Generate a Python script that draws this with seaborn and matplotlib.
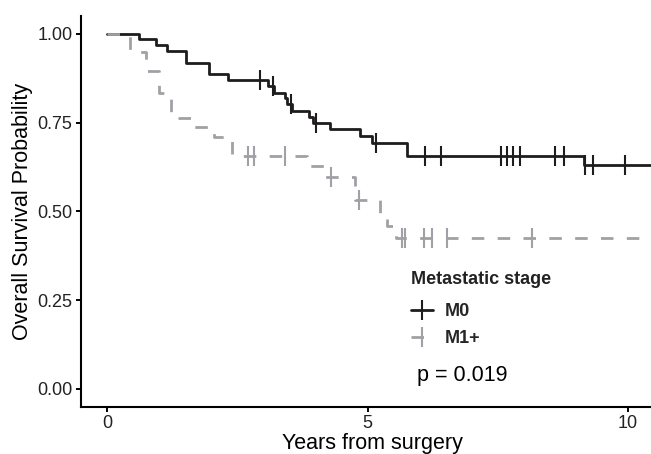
import numpy as np
import pandas as pd
import matplotlib
matplotlib.use("Agg")
import matplotlib.pyplot as plt
import seaborn as sns
from matplotlib.lines import Line2D

# Kaplan-Meier steps (years, survival after the drop)
m0_times = [0.0, 0.62, 0.94, 1.15, 1.51, 1.96, 2.32, 3.09, 3.20, 3.42, 3.46, 3.55,
            3.87, 3.96, 4.27, 4.86, 5.08, 5.75, 9.16, 10.6]
m0_surv = [1.0, 0.985, 0.969, 0.953, 0.919, 0.887, 0.870, 0.854, 0.835, 0.819, 0.803,
           0.783, 0.767, 0.750, 0.731, 0.713, 0.692, 0.656, 0.631, 0.631]
m0_censor = [2.94, 3.19, 3.53, 4.01, 5.16, 6.10, 6.40, 7.56, 7.68, 7.80, 7.93,
             8.60, 8.77, 9.17, 9.32, 9.94]

m1_times = [0.0, 0.44, 0.75, 1.00, 1.23, 1.65, 2.05, 2.40, 3.83, 4.19, 4.76, 5.23,
            5.37, 5.55, 10.6]
m1_surv = [1.0, 0.950, 0.896, 0.833, 0.763, 0.737, 0.709, 0.657, 0.627, 0.597,
           0.531, 0.490, 0.458, 0.425, 0.425]
m1_censor = [2.71, 2.82, 3.42, 4.30, 4.84, 5.66, 5.72, 6.08, 6.24, 6.53, 8.15]

groups = ["M0", "M1+"]
colors = {"M0": "#1E1C1D", "M1+": "#A0A1A5"}
legend_title = "Metastatic stage"
p_label = "p = 0.019"


def step_value(times, surv, t):
    # survival at time t from the step function
    idx = np.searchsorted(times, t, side="right") - 1
    return surv[idx]


curve_df = pd.concat([
    pd.DataFrame({"time": m0_times, "surv": m0_surv, "group": "M0"}),
    pd.DataFrame({"time": m1_times, "surv": m1_surv, "group": "M1+"}),
], ignore_index=True)

censor_df = pd.concat([
    pd.DataFrame({"time": m0_censor,
                  "surv": [step_value(m0_times, m0_surv, t) for t in m0_censor],
                  "group": "M0"}),
    pd.DataFrame({"time": m1_censor,
                  "surv": [step_value(m1_times, m1_surv, t) for t in m1_censor],
                  "group": "M1+"}),
], ignore_index=True)

sns.set_theme(style="white")
plt.rcParams["font.family"] = ["Liberation Sans", "DejaVu Sans"]

fig = plt.figure(figsize=(6.51, 4.54), dpi=100)
ax = fig.add_axes([0.124, 0.1042, 0.876, 0.8601])

lw = 2.0
sns.lineplot(data=curve_df, x="time", y="surv", hue="group", hue_order=groups,
             style="group", style_order=groups, dashes={"M0": "", "M1+": (4.5, 4.8)},
             palette=colors, estimator=None, sort=False, drawstyle="steps-post",
             linewidth=lw, legend=False, ax=ax)

for g in groups:
    sub = censor_df[censor_df["group"] == g]
    ax.plot(sub["time"], sub["surv"], linestyle="none", marker="|",
            markersize=15, markeredgewidth=1.5, color=colors[g])

ax.set_xlim(-0.505, 10.44)
ax.set_ylim(-0.05, 1.05)
ax.set_xticks([0, 5, 10])
ax.set_yticks([0, 0.25, 0.5, 0.75, 1.0])
ax.set_yticklabels(["0.00", "0.25", "0.50", "0.75", "1.00"])
ax.tick_params(axis="both", length=3.5, width=1.4, color="black", labelsize=13,
               labelcolor="#222222", pad=2.5, left=True, bottom=True)
ax.set_xlabel("Years from surgery", fontsize=15.5, color="black")
ax.xaxis.set_label_coords(0.511, -0.093)
ax.xaxis.label.set_va("center")
ax.set_ylabel("Overall Survival Probability", fontsize=15.5, color="black", labelpad=3)

for side in ["top", "right"]:
    ax.spines[side].set_visible(False)
for side in ["left", "bottom"]:
    ax.spines[side].set_color("black")
    ax.spines[side].set_linewidth(1.5)

handles = [
    Line2D([], [], color=colors["M0"], lw=lw, marker="|", markersize=15,
           markeredgewidth=1.5),
    Line2D([], [], color=colors["M1+"], lw=lw, dashes=(4.5, 4.8), marker="|",
           markersize=15, markeredgewidth=1.5),
]
fig.text(411 / 651, 1 - 280 / 454, legend_title, fontsize=13, fontweight="bold",
         ha="left", va="center", color="#222222")
ax.legend(handles, groups, loc="upper left",
          bbox_to_anchor=(411 / 651, 1 - 303 / 454), bbox_transform=fig.transFigure,
          frameon=False, handlelength=1.2, handletextpad=0.65,
          labelspacing=0.55, borderpad=0, borderaxespad=0,
          prop={"size": 13, "weight": "bold"})

ax.text(5.95, 0.037, p_label, fontsize=15.5, ha="left", va="center", color="black")

fig.savefig("out.png", dpi=100)
